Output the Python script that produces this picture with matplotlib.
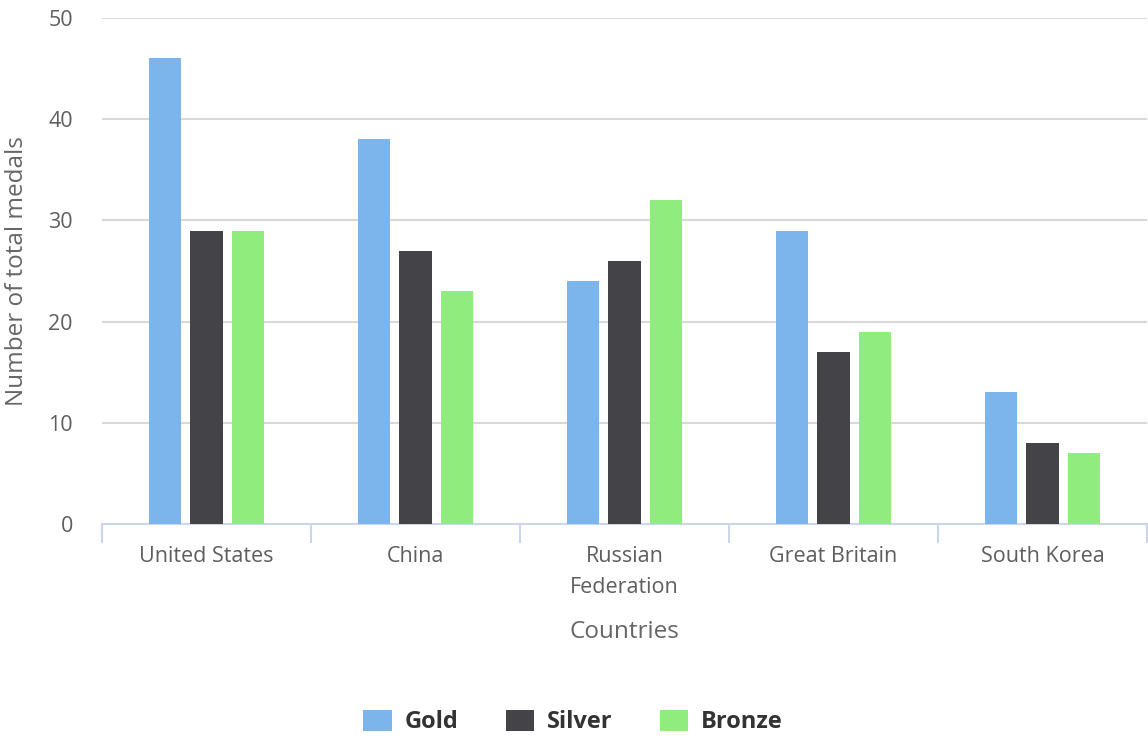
import matplotlib
matplotlib.use("Agg")
import matplotlib.pyplot as plt
import numpy as np

countries = ["United States", "China", "Russian\nFederation", "Great Britain", "South Korea"]
gold = [46, 38, 24, 29, 13]
silver = [29, 27, 26, 17, 8]
bronze = [29, 23, 32, 19, 7]
series_names = ["Gold", "Silver", "Bronze"]
colors = ["#7cb5ec", "#434348", "#90ed7d"]
yticks = [0, 10, 20, 30, 40, 50]

plt.rcParams['font.family'] = ['Open Sans', 'DejaVu Sans']

W, H = 1148, 739
fig = plt.figure(figsize=(W / 100, H / 100), dpi=100)
ax = fig.add_axes([102 / W, 1 - 524 / H, (1147 - 102) / W, (524 - 18) / H])

x = np.arange(len(countries))
bw = 0.155
offsets = [-0.2, 0.0, 0.2]
handles = []
for vals, off, c, name in zip([gold, silver, bronze], offsets, colors, series_names):
    h = ax.bar(x + off, vals, width=bw, color=c, label=name, zorder=3)
    handles.append(h)

ax.set_xlim(-0.5, len(countries) - 0.5)
ax.set_ylim(0, 50)
ax.set_yticks(yticks)
ax.set_yticklabels([str(v) for v in yticks], fontsize=15.5, color="#5e5e5e")
ax.yaxis.grid(True, color="#d8d8d8", linewidth=1.5, zorder=0)
ax.tick_params(axis='y', length=0, pad=21)

ax.set_xticks(x)
ax.set_xticklabels(countries, fontsize=15.5, color="#5e5e5e", linespacing=1.6)
ax.set_xticks(np.arange(-0.5, len(countries)), minor=True)
ax.tick_params(axis='x', which='major', length=0, pad=16)
ax.tick_params(axis='x', which='minor', length=14, width=1.5, color="#ccd6eb")

for s in ["top", "right", "left"]:
    ax.spines[s].set_visible(False)
ax.spines["bottom"].set_color("#ccd6eb")
ax.spines["bottom"].set_linewidth(1.5)

fig.text(17 / W, 1 - 271 / H, "Number of total medals", fontsize=17.5, color="#666666",
         rotation=90, ha="center", va="center")
fig.text(624 / W, 1 - 632 / H, "Countries", fontsize=17.5, color="#666666", ha="center", va="center")

leg = fig.legend(handles=handles, labels=series_names, loc="center", bbox_to_anchor=(573 / W, 1 - 722 / H),
                 ncol=3, frameon=False, handlelength=1.2, handleheight=1.0, columnspacing=2.0,
                 handletextpad=0.55, prop={"weight": "bold", "size": 17})
for t in leg.get_texts():
    t.set_color("#333333")

fig.savefig("out.png", dpi=100)
